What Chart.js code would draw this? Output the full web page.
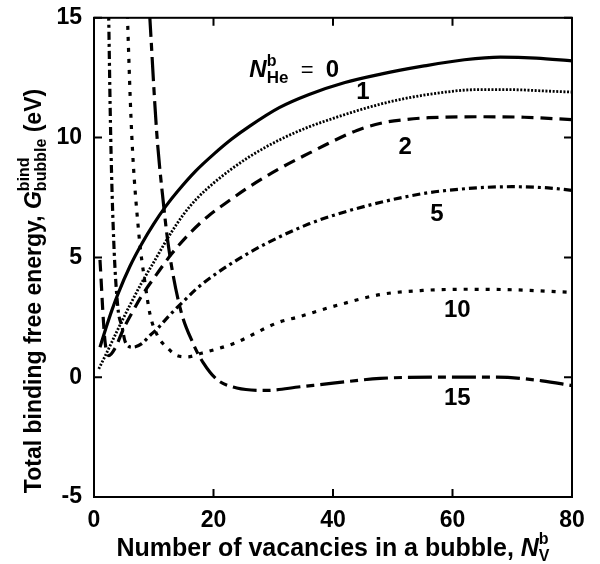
<!DOCTYPE html>
<html lang="en">
<head>
<meta charset="UTF-8">
<title>Total binding free energy of a bubble</title>
<script src="https://cdn.jsdelivr.net/npm/chart.js@4.4.0/dist/chart.umd.min.js"></script>
<style>
  body { margin: 0; background: #fff; }
</style>
</head>
<body>
<canvas id="chart" width="600" height="564"></canvas>
<script>
// number of He atoms in the bubble for each curve
const heCounts = ['0', '1', '2', '5', '10', '15'];

// N_He = 0
const nv0 = [1, 2, 3, 4, 6, 8, 10, 12, 14, 17, 20, 23, 26, 31, 36, 42, 48, 55, 62, 68, 74, 80];
const g0 = [1.25, 2.05, 2.8, 3.47, 4.62, 5.57, 6.4, 7.13, 7.76, 8.6, 9.3, 9.93, 10.47, 11.25, 11.8, 12.3, 12.65, 12.98, 13.25, 13.36, 13.32, 13.2];

// N_He = 1
const nv1 = [0.8, 2, 4, 6, 8, 10, 12.7, 15, 17.2, 20, 22.8, 26, 31, 36, 40, 44, 48, 52, 56, 64, 70, 75, 80];
const g1 = [0.35, 0.95, 2.0, 3.0, 3.95, 4.8, 5.95, 6.8, 7.45, 8.1, 8.65, 9.2, 9.9, 10.45, 10.8, 11.12, 11.4, 11.63, 11.8, 12.0, 12.0, 11.95, 11.9];

// N_He = 2
const nv2 = [1, 1.8, 2.5, 3.5, 5, 6.5, 8, 10.5, 13, 16, 19, 22.8, 26, 31, 36, 40, 44, 48, 52, 56, 64, 72, 80];
const g2 = [4.9, 1.6, 0.9, 1.2, 2.05, 2.75, 3.4, 4.3, 5.15, 6.0, 6.7, 7.4, 7.95, 8.7, 9.35, 9.85, 10.3, 10.6, 10.75, 10.83, 10.87, 10.85, 10.75];

// N_He = 5
const nv5 = [2.4, 2.8, 3.3, 4, 4.7, 5.2, 6.5, 8, 9.4, 10.5, 12.7, 14.9, 17.2, 20.6, 26, 31, 36, 40, 48, 56, 64, 70, 76, 80];
const g5 = [16, 10, 5.7, 2.9, 2.1, 1.5, 1.25, 1.4, 1.75, 2.0, 2.6, 3.15, 3.7, 4.35, 5.2, 5.85, 6.4, 6.75, 7.3, 7.7, 7.9, 7.95, 7.9, 7.8];

// N_He = 10
const nv10 = [5.4, 6.3, 7.5, 8.5, 9.4, 10.7, 12.2, 13.9, 15.6, 18, 23.3, 31, 34, 40, 47.9, 55, 62, 70, 80];
const g10 = [16.5, 10.2, 6.0, 4.0, 2.6, 1.7, 1.25, 0.9, 0.85, 1.0, 1.4, 2.3, 2.5, 2.95, 3.45, 3.62, 3.67, 3.65, 3.54];

// N_He = 15
const nv15 = [9.3, 10.5, 11.6, 12.5, 14.4, 16.6, 18.3, 20.6, 23.9, 28.9, 34.5, 40, 47.9, 57.9, 67.5, 75, 80];
const g15 = [15.2, 10.2, 7.3, 5.4, 2.9, 1.4, 0.6, -0.1, -0.45, -0.55, -0.4, -0.25, -0.05, 0.0, 0.0, -0.15, -0.35];

const xTicks = [0, 20, 40, 60, 80];
const yTicks = [-5, 0, 5, 10, 15];

function pts(xs, ys) {
    return xs.map((x, i) => ({ x: x, y: ys[i] }));
}

function curve(xs, ys, dash, width) {
    return {
        data: pts(xs, ys),
        borderColor: '#000',
        borderWidth: width,
        borderDash: dash,
        pointRadius: 0,
        fill: false,
        cubicInterpolationMode: 'monotone'
    };
}

const FAM = '"Liberation Sans", Arial, Helvetica, sans-serif';

// draw a row of text pieces; piece.stack = start at same x as previous piece
function runs(ctx, parts, x, y, measureOnly) {
    let cx = x, prevStart = x, maxEnd = x;
    parts.forEach(p => {
        ctx.font = p.f;
        const start = p.stack ? prevStart : cx;
        const w = ctx.measureText(p.t).width;
        if (!measureOnly) ctx.fillText(p.t, start, y + (p.dy || 0));
        prevStart = start;
        cx = Math.max(p.stack ? cx : start + w, start + w);
        maxEnd = Math.max(maxEnd, cx);
    });
    return maxEnd - x;
}

const framePlugin = {
    id: 'frame',
    afterDraw(chart) {
        const ctx = chart.ctx;
        const a = chart.chartArea;
        const xs = chart.scales.x, ys = chart.scales.y;
        ctx.save();
        ctx.strokeStyle = '#000';
        ctx.lineWidth = 2;
        ctx.strokeRect(a.left, a.top, a.right - a.left, a.bottom - a.top);
        const tl = 8;
        ctx.beginPath();
        xTicks.forEach(v => {
            const px = xs.getPixelForValue(v);
            ctx.moveTo(px, a.bottom); ctx.lineTo(px, a.bottom - tl);
            ctx.moveTo(px, a.top); ctx.lineTo(px, a.top + tl);
        });
        yTicks.forEach(v => {
            const py = ys.getPixelForValue(v);
            ctx.moveTo(a.left, py); ctx.lineTo(a.left + tl, py);
            ctx.moveTo(a.right, py); ctx.lineTo(a.right - tl, py);
        });
        ctx.stroke();

        ctx.fillStyle = '#000';
        ctx.textBaseline = 'middle';
        ctx.textAlign = 'center';
        const big = 'bold 24px ' + FAM;
        const spots = [null, [45.0, 11.9], [52.1, 9.6], [57.4, 6.8], [60.8, 2.8], [60.8, -0.9]];
        for (let i = 1; i < heCounts.length; i++) {
            ctx.font = big;
            ctx.fillText(heCounts[i], xs.getPixelForValue(spots[i][0]), ys.getPixelForValue(spots[i][1]));
        }

        // N_He^b = 0 label
        ctx.textAlign = 'left';
        ctx.textBaseline = 'alphabetic';
        runs(ctx, [
            { t: 'N', f: 'italic bold 24px ' + FAM },
            { t: 'b', f: 'bold 16px ' + FAM, dy: -11 },
            { t: 'He', f: 'bold 17px ' + FAM, dy: 6, stack: true },
            { t: '  =  ', f: '22px ' + FAM },
            { t: heCounts[0], f: big }
        ], xs.getPixelForValue(26.0), ys.getPixelForValue(12.55));

        // x axis title
        const xParts = [
            { t: 'Number of vacancies in a bubble, ', f: 'bold 25px ' + FAM },
            { t: 'N', f: 'italic bold 25px ' + FAM },
            { t: 'b', f: 'bold 16px ' + FAM, dy: -12 },
            { t: 'V', f: 'bold 16px ' + FAM, dy: 5, stack: true }
        ];
        const xw = runs(ctx, xParts, 0, 0, true);
        runs(ctx, xParts, (a.left + a.right) / 2 - xw / 2, 556);

        // y axis title
        const yParts = [
            { t: 'Total binding free energy, ', f: 'bold 23px ' + FAM },
            { t: 'G', f: 'italic bold 23px ' + FAM },
            { t: 'bind', f: 'bold 16px ' + FAM, dy: -12 },
            { t: 'bubble', f: 'bold 16px ' + FAM, dy: 5, stack: true },
            { t: ' (eV)', f: 'bold 23px ' + FAM }
        ];
        const yw = runs(ctx, yParts, 0, 0, true);
        ctx.translate(41, 291);
        ctx.rotate(-Math.PI / 2);
        runs(ctx, yParts, -yw / 2, 0);
        ctx.restore();
    }
};

new Chart(document.getElementById('chart').getContext('2d'), {
    type: 'line',
    data: {
        datasets: [
            curve(nv0, g0, [], 3.2),
            curve(nv1, g1, [2, 1.6], 2.8),
            curve(nv2, g2, [12, 7], 3.2),
            curve(nv5, g5, [8, 4, 3, 4], 3.2),
            curve(nv10, g10, [4, 7], 3.2),
            curve(nv15, g15, [24, 6, 8, 6], 3.2)
        ]
    },
    options: {
        responsive: false,
        animation: false,
        layout: { padding: { left: 0, right: 28, top: 17, bottom: 0 } },
        plugins: { legend: { display: false }, tooltip: { enabled: false } },
        scales: {
            x: {
                type: 'linear',
                min: 0,
                max: 80,
                grid: { display: false },
                border: { display: false },
                ticks: { stepSize: 20, color: '#000', padding: 2, font: { family: FAM, size: 23, weight: 'bold' } },
                afterFit(scale) { scale.height = 67; }
            },
            y: {
                min: -5,
                max: 15,
                grid: { display: false },
                border: { display: false },
                ticks: { stepSize: 5, color: '#000', padding: 4, font: { family: FAM, size: 23, weight: 'bold' } },
                afterFit(scale) { scale.width = 94; }
            }
        }
    },
    plugins: [framePlugin]
});
</script>
</body>
</html>
